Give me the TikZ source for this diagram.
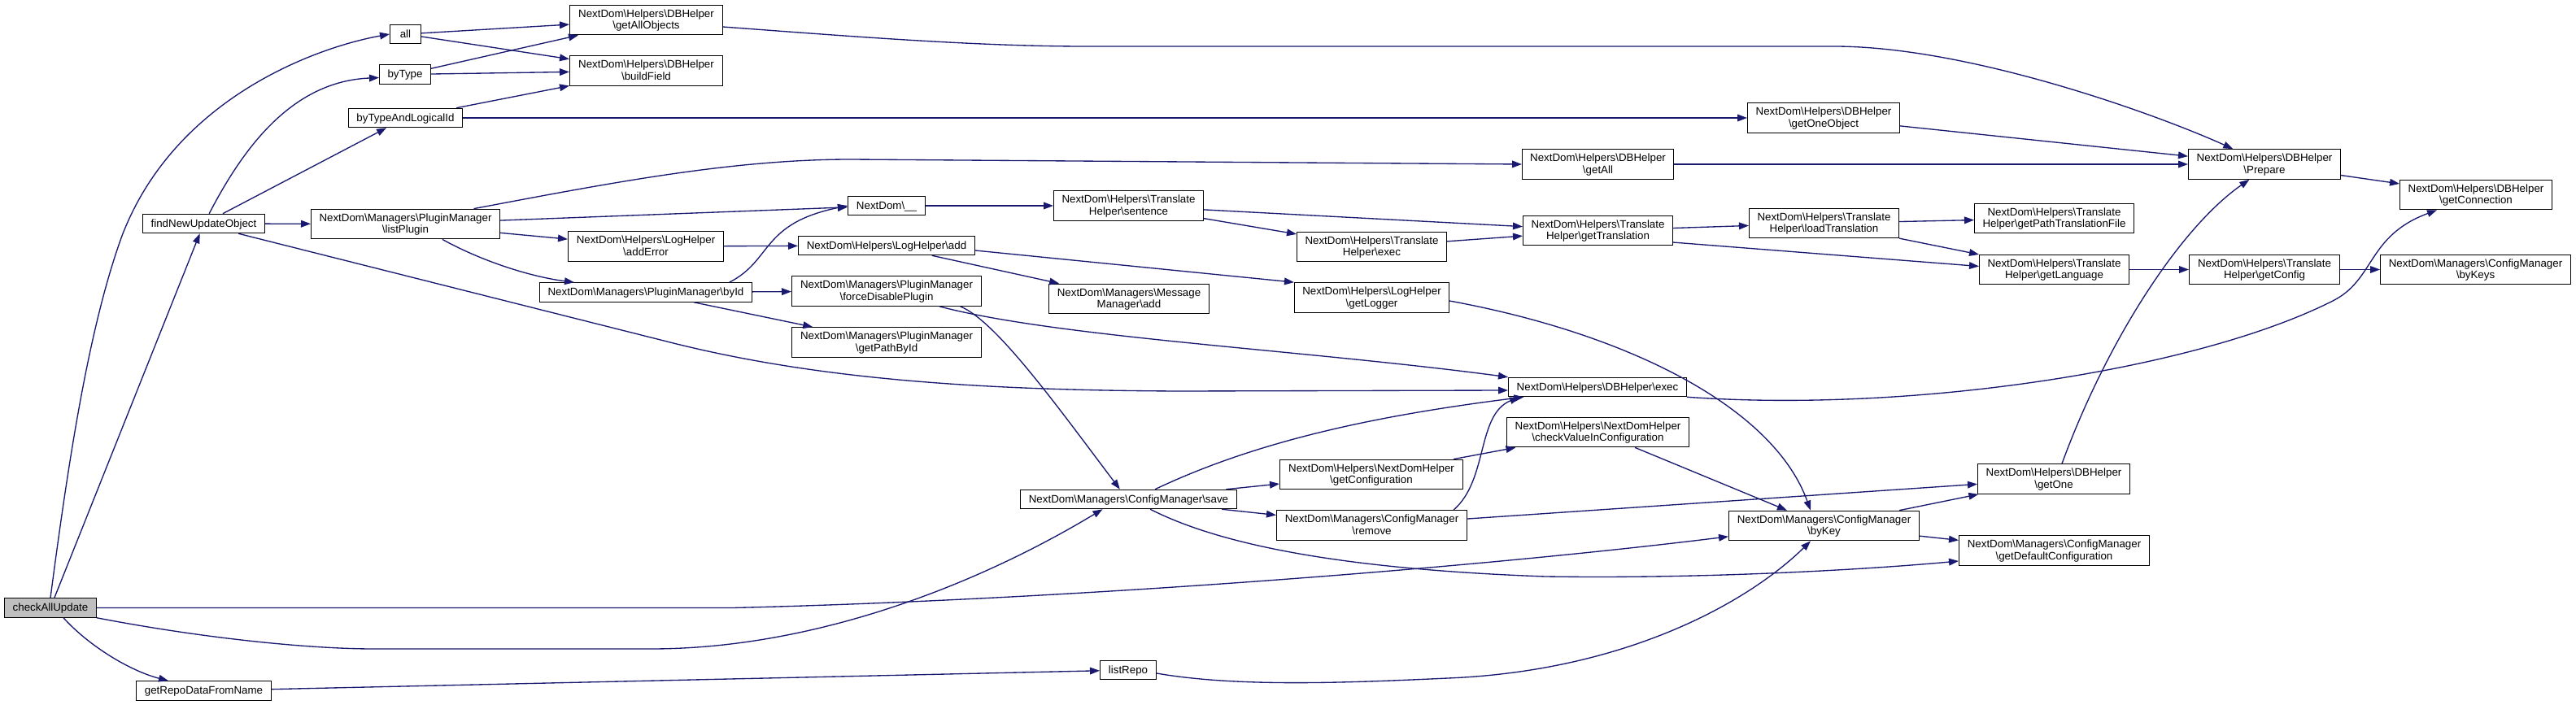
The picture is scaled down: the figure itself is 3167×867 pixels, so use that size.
\documentclass[tikz,border=0pt]{standalone}
\usepackage{fontspec}
\setmainfont{Liberation Sans}
\usetikzlibrary{arrows.meta}
\definecolor{edgecol}{HTML}{191970}
\definecolor{rootfill}{HTML}{BFBFBF}
\newcommand{\bsl}{\textbackslash}
\newcommand{\mystrut}{\rule[-1.5pt]{0pt}{9.5pt}}
\newcommand{\tl}[2]{\mystrut#1\\\mystrut#2}
\begin{document}
\begin{tikzpicture}[x=0.75pt, y=-0.75pt,
  nbox/.style={draw=black, line width=0.8pt, fill=white, font=\fontsize{10}{9.5}\selectfont, inner xsep=3pt, inner ysep=0pt, anchor=center},
  one/.style={nbox, minimum height=17.6pt, text height=8pt, text depth=1.5pt},
  two/.style={nbox, minimum height=27.5pt, align=center},
  wd/.style={minimum width=#1*0.75pt-0.8pt},
  cg/.style={draw=edgecol, line width=1pt, -{Triangle[length=9pt,width=6.5pt]}}]
\useasboundingbox (0,0) rectangle (3167,867);

\node[one, wd=114, fill=rootfill] (cau) at (62,747.5) {checkAllUpdate};
\node[one, wd=151] (fnuo) at (250.5,275) {findNewUpdateObject};
\node[one, wd=167] (grd) at (250.5,849.5) {getRepoDataFromName};
\node[one, wd=39] (nall) at (498.5,42) {all};
\node[one, wd=64] (btype) at (498,91.5) {byType};
\node[one, wd=141] (btali) at (498.5,145) {byTypeAndLogicalId};
\node[two, wd=233] (lplug) at (498.5,275.5) {\tl{NextDom\bsl Managers\bsl PluginManager}{\bsl listPlugin}};
\node[two, wd=189] (gao) at (794.5,24.5) {\tl{NextDom\bsl Helpers\bsl DBHelper}{\bsl getAllObjects}};
\node[two, wd=189] (bfield) at (794.5,87) {\tl{NextDom\bsl Helpers\bsl DBHelper}{\bsl buildField}};
\node[two, wd=192] (adderr) at (794,303) {\tl{NextDom\bsl Helpers\bsl LogHelper}{\bsl addError}};
\node[one, wd=262] (byid) at (794,359.5) {NextDom\bsl Managers\bsl PluginManager\bsl byId};
\node[one, wd=96] (uu) at (1090,253) {NextDom\bsl \_\_};
\node[one, wd=218] (lhadd) at (1090,302) {NextDom\bsl Helpers\bsl LogHelper\bsl add};
\node[two, wd=234] (fdp) at (1090,358) {\tl{NextDom\bsl Managers\bsl PluginManager}{\bsl forceDisablePlugin}};
\node[two, wd=234] (gpbi) at (1090,421) {\tl{NextDom\bsl Managers\bsl PluginManager}{\bsl getPathById}};
\node[two, wd=185] (sent) at (1387.5,253) {\tl{NextDom\bsl Helpers\bsl Translate}{Helper\bsl sentence}};
\node[two, wd=198] (mmadd) at (1388,367.5) {\tl{NextDom\bsl Managers\bsl Message}{Manager\bsl add}};
\node[one, wd=267] (save) at (1387.5,614) {NextDom\bsl Managers\bsl ConfigManager\bsl save};
\node[one, wd=70] (lrepo) at (1387,824) {listRepo};
\node[two, wd=185] (texec) at (1686.5,303.5) {\tl{NextDom\bsl Helpers\bsl Translate}{Helper\bsl exec}};
\node[two, wd=191] (glog) at (1686.5,366) {\tl{NextDom\bsl Helpers\bsl LogHelper}{\bsl getLogger}};
\node[two, wd=226] (gconf) at (1686,583.5) {\tl{NextDom\bsl Helpers\bsl NextDomHelper}{\bsl getConfiguration}};
\node[two, wd=235] (remove) at (1686.5,646) {\tl{NextDom\bsl Managers\bsl ConfigManager}{\bsl remove}};
\node[two, wd=187] (gall) at (1964.5,202) {\tl{NextDom\bsl Helpers\bsl DBHelper}{\bsl getAll}};
\node[two, wd=185] (gtrans) at (1964.5,283.5) {\tl{NextDom\bsl Helpers\bsl Translate}{Helper\bsl getTranslation}};
\node[one, wd=220] (dbexec) at (1964,476) {NextDom\bsl Helpers\bsl DBHelper\bsl exec};
\node[two, wd=225] (cvic) at (1964.5,531.5) {\tl{NextDom\bsl Helpers\bsl NextDomHelper}{\bsl checkValueInConfiguration}};
\node[two, wd=188] (goo) at (2242,145) {\tl{NextDom\bsl Helpers\bsl DBHelper}{\bsl getOneObject}};
\node[two, wd=185] (ltrans) at (2242.5,274.5) {\tl{NextDom\bsl Helpers\bsl Translate}{Helper\bsl loadTranslation}};
\node[two, wd=235] (bykey) at (2242.5,646.5) {\tl{NextDom\bsl Managers\bsl ConfigManager}{\bsl byKey}};
\node[two, wd=197] (gptf) at (2525.5,268.5) {\tl{NextDom\bsl Helpers\bsl Translate}{Helper\bsl getPathTranslationFile}};
\node[two, wd=185] (glang) at (2525.5,331.5) {\tl{NextDom\bsl Helpers\bsl Translate}{Helper\bsl getLanguage}};
\node[two, wd=188] (gone) at (2525,589) {\tl{NextDom\bsl Helpers\bsl DBHelper}{\bsl getOne}};
\node[two, wd=235] (gdc) at (2525.5,677) {\tl{NextDom\bsl Managers\bsl ConfigManager}{\bsl getDefaultConfiguration}};
\node[two, wd=188] (prep) at (2784,202) {\tl{NextDom\bsl Helpers\bsl DBHelper}{\bsl Prepare}};
\node[two, wd=186] (gcfg) at (2784,331.5) {\tl{NextDom\bsl Helpers\bsl Translate}{Helper\bsl getConfig}};
\node[two, wd=188] (gconn) at (3044,239.5) {\tl{NextDom\bsl Helpers\bsl DBHelper}{\bsl getConnection}};
\node[two, wd=235] (bykeys) at (3043.5,331.5) {\tl{NextDom\bsl Managers\bsl ConfigManager}{\bsl byKeys}};

% checkAllUpdate
\draw[cg] (cau.north) .. controls (85,560) and (110,400) .. (150,290) .. controls (215,120) and (390,58) .. (nall.west);
\draw[cg] (cau) -- (fnuo);
\draw[cg] (cau.south east) .. controls (250,785) and (380,798) .. (460,798) -- (800,798) .. controls (1000,798) and (1200,720) .. ([xshift=-24pt]save.south);
\draw[cg] (cau.east) -- (900,747.5) .. controls (1300,738) and (1800,700) .. ([yshift=-10pt]bykey.west);
\draw[cg] ([xshift=12pt]cau.south) .. controls (110,795) and (160,825) .. ([xshift=-32.6pt]grd.north);

% findNewUpdateObject
\draw[cg] ([xshift=5pt]fnuo.north) .. controls (300,180) and (360,100) .. ([yshift=-3pt]btype.west);
\draw[cg] (fnuo) -- (btali);
\draw[cg] (fnuo) -- (lplug);
\draw[cg] ([xshift=32pt]fnuo.south) -- (820,420) .. controls (1000,466) and (1200,480) .. (1450,481) -- ([yshift=-3pt]dbexec.west);

% all, byType, byTypeAndLogicalId
\draw[cg] (nall) -- (gao);
\draw[cg] (nall) -- (bfield);
\draw[cg] (btype) -- (gao);
\draw[cg] (btype) -- (bfield);
\draw[cg] (btali) -- (bfield);
\draw[cg] (btali) -- (goo);

% DBHelper chain
\draw[cg] ([yshift=-6.4pt]gao.east) .. controls (1050,45) and (1200,57) .. (1335,57) -- (2255,57) .. controls (2420,57) and (2650,140) .. ([xshift=-29pt]prep.north);
\draw[cg] (goo) -- (prep);
\draw[cg] (gall) -- (prep);
\draw[cg] (prep) -- (gconn);

% listPlugin
\draw[cg] ([xshift=63pt]lplug.north) .. controls (750,225) and (900,196) .. (1046,196) -- (gall.west);
\draw[cg] (lplug) -- (uu);
\draw[cg] (lplug) -- (adderr);
\draw[cg] ([xshift=34pt]lplug.south) .. controls (590,320) and (650,340) .. ([xshift=-66pt]byid.north);
\draw[cg] (adderr) -- (lhadd);

% byId
\draw[cg] ([xshift=77pt]byid.north) .. controls (950,320) and (935,275) .. (uu.west);
\draw[cg] (byid) -- (fdp);
\draw[cg] (byid) -- (gpbi);

% translate chain
\draw[cg] (uu) -- (sent);
\draw[cg] (sent) -- (texec);
\draw[cg] (sent) -- (gtrans);
\draw[cg] (texec) -- (gtrans);
\draw[cg] (gtrans) -- (ltrans);
\draw[cg] ([yshift=-10.9pt]gtrans.east) -- ([yshift=3pt]glang.west);
\draw[cg] (ltrans) -- (gptf);
\draw[cg] (ltrans) -- (glang);
\draw[cg] (glang) -- (gcfg);
\draw[cg] (gcfg) -- (bykeys);

% LogHelper add
\draw[cg] (lhadd) -- (mmadd);
\draw[cg] ([yshift=-4.5pt]lhadd.east) -- (glog.north west);
\draw[cg] ([yshift=-3pt]glog.east) .. controls (2000,410) and (2180,500) .. ([xshift=-12.4pt]bykey.north);

% forceDisablePlugin
\draw[cg] ([xshift=48.75pt]fdp.south) .. controls (1300,415) and (1600,430) .. (dbexec.north west);
\draw[cg] ([xshift=68pt]fdp.south) .. controls (1225,395) and (1300,500) .. ([xshift=-8pt]save.north);

% ConfigManager save
\draw[cg] ([xshift=24.4pt]save.north) .. controls (1550,540) and (1700,510) .. ([xshift=-68pt]dbexec.south);
\draw[cg] (save) -- (gconf);
\draw[cg] (save) -- (remove);
\draw[cg] ([xshift=20pt]save.south) .. controls (1500,670) and (1650,700) .. (1900,709) .. controls (2100,712) and (2300,700) .. ([yshift=-9.75pt]gdc.west);

% others
\draw[cg] (gconf) -- (cvic);
\draw[cg] (cvic) -- (bykey);
\draw[cg] ([xshift=75.4pt]remove.north) .. controls (1830,590) and (1815,510) .. ([xshift=-72pt]dbexec.south);
\draw[cg] (remove) -- (gone);
\draw[cg] (bykey) -- (gone);
\draw[cg] (bykey) -- (gdc);
\draw[cg] ([xshift=7.5pt]gone.north) .. controls (2590,420) and (2680,280) .. ([xshift=-14pt]prep.south);
\draw[cg] (dbexec.south east) .. controls (2350,508) and (2700,455) .. (2868,370) .. controls (2920,344) and (2910,290) .. ([xshift=-36pt]gconn.south);
\draw[cg] (grd) -- (lrepo);
\draw[cg] ([yshift=-3pt]lrepo.east) .. controls (1520,845) and (1650,840) .. (1780,834) .. controls (2000,825) and (2150,740) .. ([xshift=-12.4pt]bykey.south);
\end{tikzpicture}
\end{document}
